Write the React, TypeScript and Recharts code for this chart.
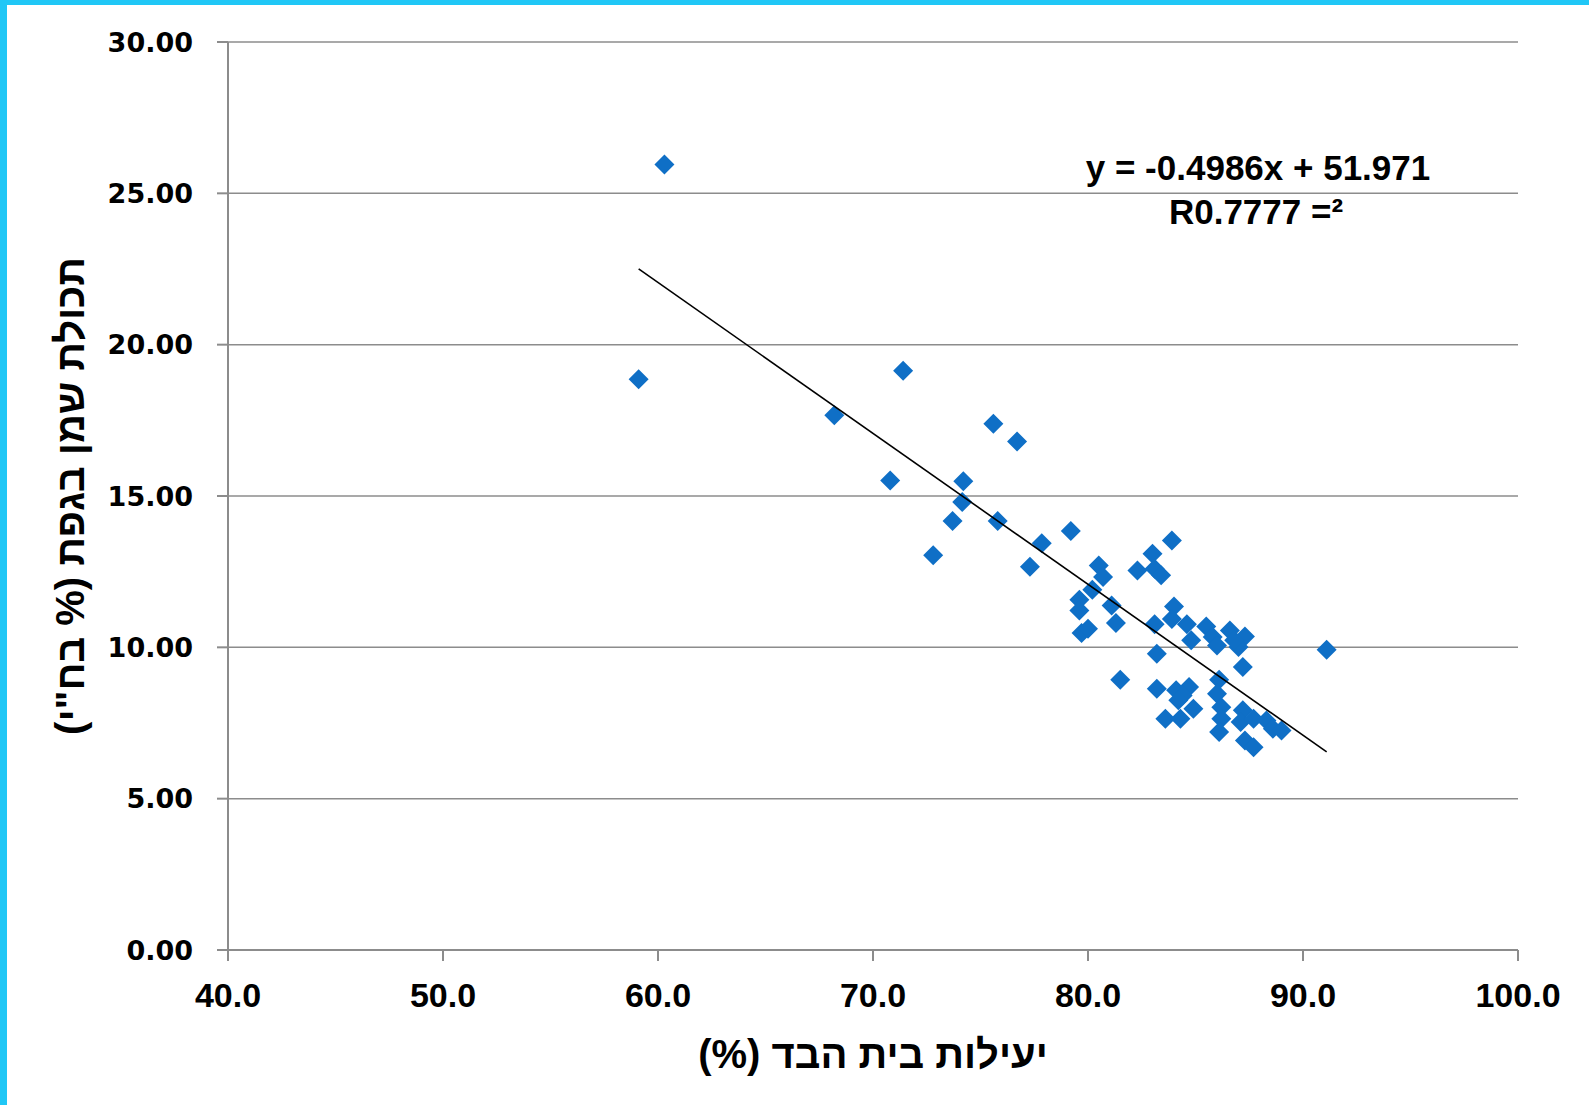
import React from "react";
import {
  ScatterChart,
  Scatter,
  XAxis,
  YAxis,
  CartesianGrid,
  Label,
} from "recharts";

// values
const efficiency = [
  60.3, 59.1, 71.4, 68.2, 70.8, 74.2, 74.15, 73.7, 75.6, 76.7, 75.8, 77.85,
  72.8, 77.3, 79.2, 83.9, 83.0, 82.3, 83.1, 83.4, 80.5, 80.7, 80.2, 79.6, 79.6,
  81.1, 81.3, 79.7, 80.0, 84.0, 83.9, 83.1, 84.6, 84.8, 85.5, 85.8, 86.0, 86.6,
  87.3, 87.0, 86.8, 91.1, 83.2, 87.2, 81.5, 86.1, 83.2, 84.1, 84.7, 84.4, 84.2,
  86.0, 84.9, 86.2, 83.6, 84.3, 86.2, 86.1, 87.2, 87.1, 87.7, 88.3, 88.6, 89.0,
  87.3, 87.7,
];
const oilContent = [
  25.95, 18.86, 19.14, 17.67, 15.51, 15.49, 14.8, 14.17, 17.39, 16.8, 14.17,
  13.44, 13.04, 12.66, 13.84, 13.53, 13.09, 12.54, 12.6, 12.38, 12.7, 12.32,
  11.9, 11.57, 11.22, 11.38, 10.8, 10.47, 10.61, 11.35, 10.94, 10.76, 10.76,
  10.23, 10.69, 10.34, 10.06, 10.56, 10.36, 10.01, 10.23, 9.92, 9.79, 9.35,
  8.93, 8.93, 8.63, 8.58, 8.69, 8.41, 8.25, 8.47, 7.97, 8.02, 7.64, 7.64, 7.64,
  7.2, 7.92, 7.53, 7.64, 7.58, 7.31, 7.25, 6.92, 6.7,
];
const xTicks = [40, 50, 60, 70, 80, 90, 100];
const yTicks = [0, 5, 10, 15, 20, 25, 30];

// linear trendline as printed on the chart
const SLOPE = -0.4986;
const INTERCEPT = 51.971;
const trendRange = [59.1, 91.1];

const xTitle = "יעילות בית הבד (%)";
const yTitle = 'תכולת שמן בגפת (% בח"י)';
const eqLine1 = "y = -0.4986x + 51.971";
const eqLine2 = "R0.7777 =²";

const points = efficiency.map((x, i) => ({ x, y: oilContent[i] }));
const trend = trendRange.map((x) => ({ x, y: SLOPE * x + INTERCEPT }));

const BLUE = "#0F6FC6";
const GRID = "#8c8c8c";
const ARIAL = "Liberation Sans, Arial, sans-serif";

const Diamond = (props: any) => {
  const { cx, cy } = props;
  const r = 10;
  return (
    <polygon
      points={`${cx},${cy - r} ${cx + r},${cy} ${cx},${cy + r} ${cx - r},${cy}`}
      fill={BLUE}
    />
  );
};

export default function App() {
  return (
    <div
      style={{
        position: "absolute",
        left: 0,
        top: 0,
        width: 1589,
        height: 1105,
        background: "#fff",
        overflow: "hidden",
      }}
    >
      <div
        style={{
          position: "absolute",
          left: 0,
          top: 0,
          width: 1589,
          height: 5,
          background: "#20C7F6",
        }}
      />
      <div
        style={{
          position: "absolute",
          left: 0,
          top: 0,
          width: 7,
          height: 1105,
          background: "#20C7F6",
        }}
      />
      <div style={{ position: "absolute", left: 0, top: 0 }}>
        <ScatterChart
          width={1589}
          height={1105}
          margin={{ top: 42, right: 71, bottom: 0, left: 0 }}
        >
          <CartesianGrid vertical={false} stroke={GRID} strokeWidth={1.5} />
          <XAxis
            type="number"
            dataKey="x"
            domain={[40, 100]}
            ticks={xTicks}
            height={155}
            tickFormatter={(v: number) => v.toFixed(1)}
            stroke={GRID}
            strokeWidth={2}
            tickSize={11}
            tickMargin={22}
            tick={{
              fill: "#000",
              fontSize: 34,
              fontWeight: "bold",
              fontFamily: ARIAL,
            }}
          >
            <Label
              content={(p: any) => {
                const vb = p.viewBox;
                return (
                  <text
                    x={vb.x + vb.width / 2}
                    y={1068}
                    textAnchor="middle"
                    direction="rtl"
                    style={{ direction: "rtl" }}
                    fontSize={40}
                    fontWeight="bold"
                    fontFamily={ARIAL}
                    fill="#000"
                  >
                    {xTitle}
                  </text>
                );
              }}
            />
          </XAxis>
          <YAxis
            type="number"
            dataKey="y"
            domain={[0, 30]}
            ticks={yTicks}
            width={228}
            tickFormatter={(v: number) => v.toFixed(2)}
            stroke={GRID}
            strokeWidth={2}
            tickSize={11}
            tickMargin={24}
            tick={{
              fill: "#000",
              fontSize: 27,
              fontWeight: "bold",
              fontFamily: "DejaVu Sans, Verdana, sans-serif",
            }}
          >
            <Label
              content={(p: any) => {
                const vb = p.viewBox;
                const cy = vb.y + vb.height / 2;
                return (
                  <text
                    x={70}
                    y={cy}
                    transform={`rotate(-90 70 ${cy})`}
                    textAnchor="middle"
                    dominantBaseline="central"
                    direction="rtl"
                    style={{ direction: "rtl" }}
                    fontSize={40}
                    fontWeight="bold"
                    fontFamily={ARIAL}
                    fill="#000"
                  >
                    {yTitle}
                  </text>
                );
              }}
            />
          </YAxis>
          <Scatter data={points} shape={Diamond} isAnimationActive={false} />
          <Scatter
            data={trend}
            line={{ stroke: "#000", strokeWidth: 1.6 }}
            shape={() => <g />}
            isAnimationActive={false}
          />
        </ScatterChart>
      </div>
      <svg
        width={1589}
        height={1105}
        style={{ position: "absolute", left: 0, top: 0, pointerEvents: "none" }}
      >
        <text
          x={1258}
          y={180}
          textAnchor="middle"
          fontSize={35}
          fontWeight="bold"
          fontFamily={ARIAL}
          fill="#000"
        >
          {eqLine1}
        </text>
        <text
          x={1256}
          y={224}
          textAnchor="middle"
          fontSize={35}
          fontWeight="bold"
          fontFamily={ARIAL}
          fill="#000"
        >
          {eqLine2}
        </text>
      </svg>
    </div>
  );
}
